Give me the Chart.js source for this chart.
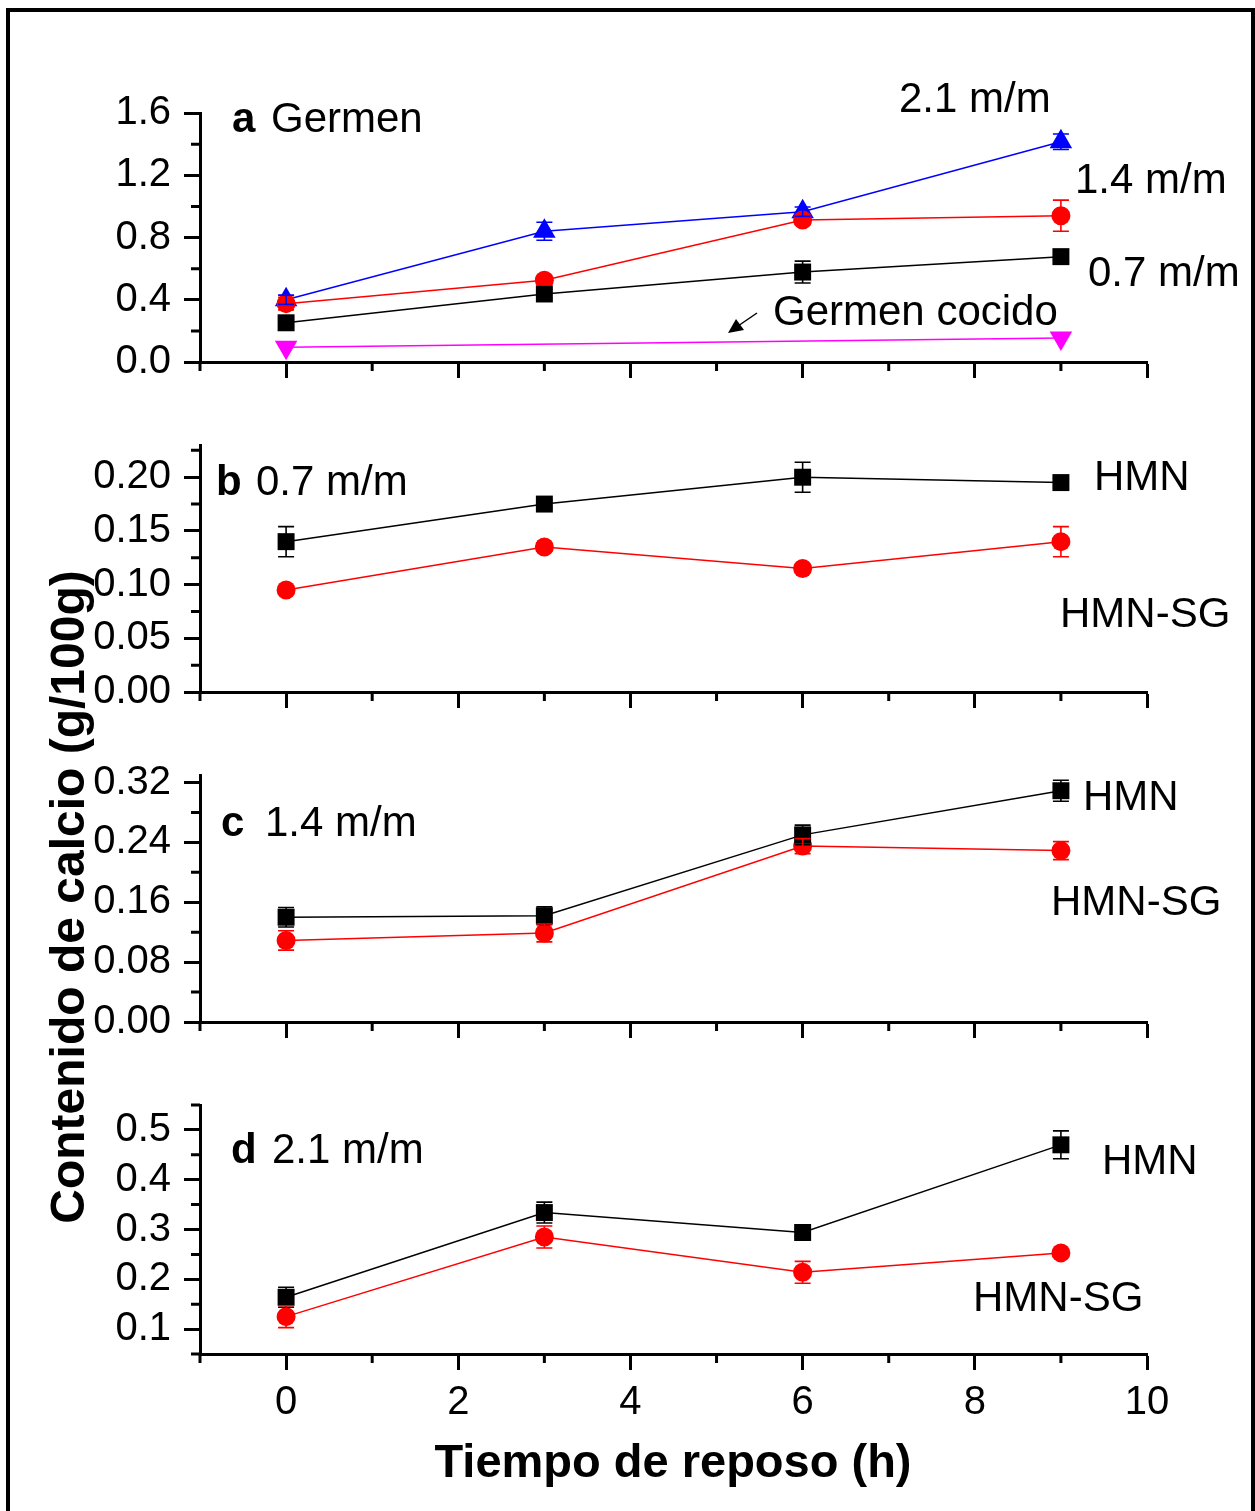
<!DOCTYPE html>
<html>
<head>
<meta charset="utf-8">
<title>Contenido de calcio</title>
<script src="https://cdn.jsdelivr.net/npm/chart.js@4.4.1/dist/chart.umd.min.js"></script>
<style>
  html, body { margin: 0; padding: 0; background: #fff; overflow: hidden; }
  #page { position: relative; width: 1255px; height: 1511px; }
  #page canvas { position: absolute; left: 0; top: 0; }
  #frame { position: absolute; left: 6px; top: 8px; width: 1249px; height: 1560px; border: 4px solid #000; box-sizing: border-box; }
</style>
</head>
<body>
<div id="page">
  <div id="frame"></div>
  <canvas id="panelA" width="1255" height="1511"></canvas>
  <canvas id="panelB" width="1255" height="1511"></canvas>
  <canvas id="panelC" width="1255" height="1511"></canvas>
  <canvas id="panelD" width="1255" height="1511"></canvas>
</div>
<script>
// sampling times (h)
const hours = [0, 3, 6, 9];
const cookedHours = [0, 9];

// a - germen, three lime doses + cooked germ
const germen07 = [0.252, 0.437, 0.578, 0.677];
const germen07Err = [0.02, 0.03, 0.07, 0.015];
const germen14 = [0.375, 0.525, 0.912, 0.94];
const germen14Err = [0.04, 0.03, 0.03, 0.1];
const germen21 = [0.40, 0.84, 0.966, 1.415];
const germen21Err = [0.03, 0.058, 0.03, 0.05];
const germenCocido = [0.095, 0.155];

// b - 0.7 m/m
const hmn07 = [0.140, 0.175, 0.200, 0.195];
const hmn07Err = [0.014, 0.004, 0.014, 0.004];
const sg07 = [0.095, 0.135, 0.115, 0.140];
const sg07Err = [0.004, 0.004, 0.004, 0.014];

// c - 1.4 m/m
const hmn14 = [0.140, 0.142, 0.250, 0.309];
const hmn14Err = [0.013, 0.012, 0.013, 0.014];
const sg14 = [0.109, 0.119, 0.235, 0.229];
const sg14Err = [0.013, 0.012, 0.010, 0.012];

// d - 2.1 m/m
const hmn21 = [0.164, 0.334, 0.294, 0.470];
const hmn21Err = [0.020, 0.021, 0.008, 0.028];
const sg21 = [0.125, 0.285, 0.214, 0.253];
const sg21Err = [0.022, 0.022, 0.022, 0.005];

const xTicks = [0, 2, 4, 6, 8, 10];
const yTicksA = [0, 0.4, 0.8, 1.2, 1.6];
const yTicksB = [0, 0.05, 0.10, 0.15, 0.20];
const yTicksC = [0, 0.08, 0.16, 0.24, 0.32];
const yTicksD = [0.1, 0.2, 0.3, 0.4, 0.5];

const FONT = '"Liberation Sans", Arial, Helvetica, sans-serif';
Chart.defaults.color = '#000';
Chart.defaults.font.family = FONT;

const BLACK = '#000000', RED = '#ff0000', BLUE = '#0000ff', MAGENTA = '#ff00ff';

function series(xs, ys, err, color, style, radius, rotation) {
  return {
    data: xs.map((x, i) => ({ x, y: ys[i] })),
    err,
    borderColor: color,
    backgroundColor: color,
    pointBackgroundColor: color,
    borderWidth: 1.5,
    pointStyle: style,
    pointRadius: radius,
    pointRotation: rotation || 0,
    pointBorderWidth: 0,
    tension: 0,
    clip: false
  };
}

// vertical error bars with caps, same colour as the series
const errorBars = {
  id: 'errorBars',
  afterDatasetsDraw(chart) {
    const { ctx, scales: { x, y } } = chart;
    chart.data.datasets.forEach(ds => {
      if (!ds.err) return;
      ctx.save();
      ctx.strokeStyle = ds.borderColor;
      ctx.lineWidth = 1.6;
      ds.data.forEach((p, i) => {
        const px = x.getPixelForValue(p.x);
        const top = y.getPixelForValue(p.y + ds.err[i]);
        const bot = y.getPixelForValue(p.y - ds.err[i]);
        ctx.beginPath();
        ctx.moveTo(px, top); ctx.lineTo(px, bot);
        ctx.moveTo(px - 8, top); ctx.lineTo(px + 8, top);
        ctx.moveTo(px - 8, bot); ctx.lineTo(px + 8, bot);
        ctx.stroke();
      });
      ctx.restore();
    });
  }
};

// short ticks between the labelled ones
function minorTicks(o) {
  return {
    id: 'minorTicks',
    afterDraw(chart) {
      const { ctx, chartArea: a, scales: { x, y } } = chart;
      ctx.save();
      ctx.strokeStyle = '#000';
      ctx.lineWidth = 3;
      ctx.beginPath();
      for (let v = x.min; v <= x.max + 1e-9; v += 1) {
        if (xTicks.some(t => Math.abs(t - v) < 1e-9)) continue;
        const px = x.getPixelForValue(v);
        ctx.moveTo(px, a.bottom); ctx.lineTo(px, a.bottom + 9);
      }
      for (let k = 0; y.min + k * o.yMinor <= y.max + 1e-9; k++) {
        const v = y.min + k * o.yMinor;
        if (o.yTicks.some(t => Math.abs(t - v) < 1e-9)) continue;
        const py = y.getPixelForValue(v);
        ctx.moveTo(a.left, py); ctx.lineTo(a.left - 9, py);
      }
      ctx.stroke();
      ctx.restore();
    }
  };
}

function notes(o) {
  return {
    id: 'notes',
    afterDraw(chart) {
      const ctx = chart.ctx;
      ctx.save();
      ctx.fillStyle = '#000';
      ctx.textBaseline = 'alphabetic';
      ctx.textAlign = 'left';
      o.notes.forEach(n => {
        ctx.font = (n.bold ? 'bold ' : '') + (n.size || 42) + 'px ' + FONT;
        ctx.fillText(n.text, n.x, n.y);
      });
      if (o.extra) o.extra(ctx);
      ctx.restore();
    }
  };
}

const axisGrid = { drawOnChartArea: false, drawTicks: true, tickLength: 16, tickWidth: 3, color: '#000' };
const axisBorder = { display: true, width: 3, color: '#000' };
const tickFont = { size: 40, family: FONT };

function panel(id, o) {
  return new Chart(document.getElementById(id), {
    type: 'line',
    data: { datasets: o.datasets },
    options: {
      responsive: false,
      animation: false,
      devicePixelRatio: 1,
      layout: { padding: { top: o.top, right: 108, left: 0, bottom: 0 } },
      plugins: { legend: { display: false }, tooltip: { enabled: false } },
      scales: {
        x: {
          type: 'linear', min: -1, max: 10,
          afterBuildTicks: s => { s.ticks = xTicks.map(v => ({ value: v })); },
          afterFit: s => { s.height = 1511 - o.bottom; },
          grid: axisGrid, border: axisBorder,
          ticks: { display: !!o.showX, font: tickFont, padding: 9, maxRotation: 0, autoSkip: false, callback: v => String(v) }
        },
        y: {
          type: 'linear', min: o.yMin, max: o.yMax,
          afterBuildTicks: s => { s.ticks = o.yTicks.map(v => ({ value: v })); },
          afterFit: s => { s.width = 200; },
          grid: axisGrid, border: axisBorder,
          ticks: { font: tickFont, padding: 13, autoSkip: false, callback: v => v.toFixed(o.digits) }
        }
      }
    },
    plugins: [errorBars, minorTicks(o), notes(o)]
  });
}

panel('panelA', {
  top: 113, bottom: 362, yMin: 0, yMax: 1.6, yTicks: yTicksA, yMinor: 0.2, digits: 1,
  datasets: [
    series(hours, germen07, germen07Err, BLACK, 'rect', 12),
    series(hours, germen14, germen14Err, RED, 'circle', 9.5),
    series(hours, germen21, germen21Err, BLUE, 'triangle', 13),
    series(cookedHours, germenCocido, null, MAGENTA, 'triangle', 13, 180)
  ],
  notes: [
    { text: 'a', x: 232, y: 132, bold: true },
    { text: 'Germen', x: 271, y: 132 },
    { text: '2.1 m/m', x: 899, y: 112 },
    { text: '1.4 m/m', x: 1075, y: 193 },
    { text: '0.7 m/m', x: 1088, y: 286 },
    { text: 'Germen cocido', x: 773, y: 325 }
  ],
  extra(ctx) {
    // arrow pointing at the cooked-germ line
    ctx.strokeStyle = '#000';
    ctx.lineWidth = 1.5;
    ctx.beginPath();
    ctx.moveTo(757, 313); ctx.lineTo(738, 326);
    ctx.stroke();
    ctx.beginPath();
    ctx.moveTo(728, 333); ctx.lineTo(736, 319); ctx.lineTo(744, 330);
    ctx.closePath();
    ctx.fill();
  }
});

panel('panelB', {
  top: 445, bottom: 692, yMin: 0, yMax: 0.23, yTicks: yTicksB, yMinor: 0.025, digits: 2,
  datasets: [
    series(hours, hmn07, hmn07Err, BLACK, 'rect', 12),
    series(hours, sg07, sg07Err, RED, 'circle', 9.5)
  ],
  notes: [
    { text: 'b', x: 216, y: 495, bold: true },
    { text: '0.7 m/m', x: 256, y: 495 },
    { text: 'HMN', x: 1094, y: 490 },
    { text: 'HMN-SG', x: 1060, y: 627 }
  ]
});

panel('panelC', {
  top: 775, bottom: 1022, yMin: 0, yMax: 0.33, yTicks: yTicksC, yMinor: 0.04, digits: 2,
  datasets: [
    series(hours, hmn14, hmn14Err, BLACK, 'rect', 12),
    series(hours, sg14, sg14Err, RED, 'circle', 9.5)
  ],
  notes: [
    { text: 'c', x: 221, y: 836, bold: true },
    { text: '1.4 m/m', x: 265, y: 836 },
    { text: 'HMN', x: 1083, y: 810 },
    { text: 'HMN-SG', x: 1051, y: 915 }
  ]
});

panel('panelD', {
  top: 1105, bottom: 1354, yMin: 0.05, yMax: 0.55, yTicks: yTicksD, yMinor: 0.05, digits: 1, showX: true,
  datasets: [
    series(hours, hmn21, hmn21Err, BLACK, 'rect', 12),
    series(hours, sg21, sg21Err, RED, 'circle', 9.5)
  ],
  notes: [
    { text: 'd', x: 231, y: 1163, bold: true },
    { text: '2.1 m/m', x: 272, y: 1163 },
    { text: 'HMN', x: 1102, y: 1174 },
    { text: 'HMN-SG', x: 973, y: 1311 }
  ],
  extra(ctx) {
    // shared axis titles
    ctx.font = 'bold 47px ' + FONT;
    ctx.textAlign = 'center';
    ctx.fillText('Tiempo de reposo (h)', 673, 1477);
    ctx.font = 'bold 48px ' + FONT;
    ctx.translate(84, 897);
    ctx.rotate(-Math.PI / 2);
    ctx.fillText('Contenido de calcio (g/100g)', 0, 0);
  }
});
</script>
</body>
</html>
